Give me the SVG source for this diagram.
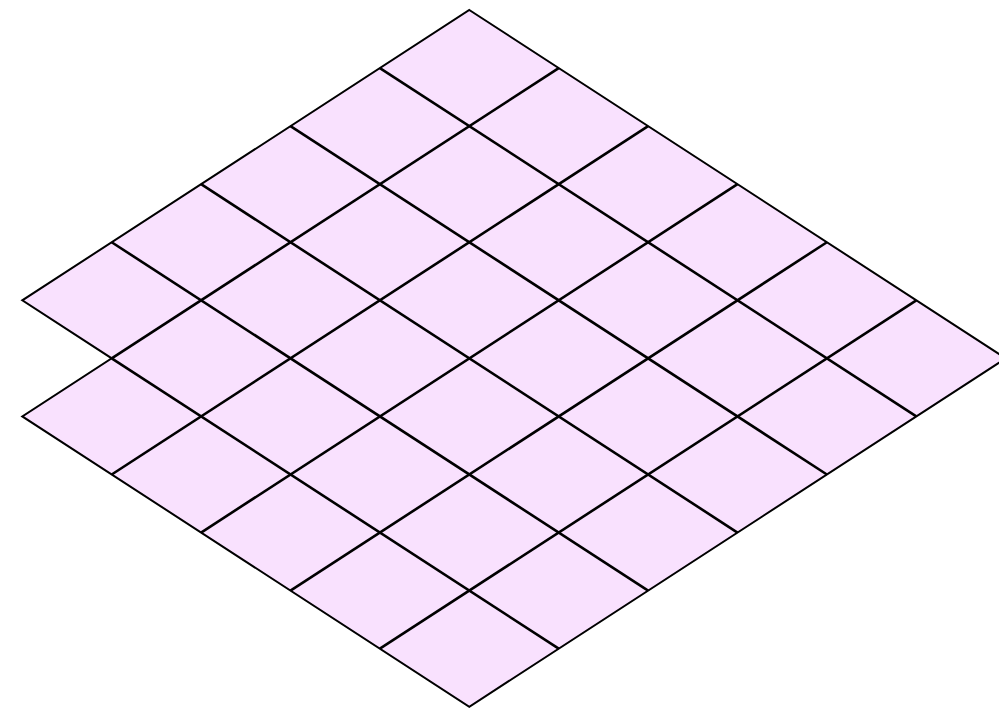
<svg xmlns="http://www.w3.org/2000/svg" width="999" height="712" viewBox="0 0 999 712">
<style>
.plane{fill:#f9e1fe;stroke:#000;stroke-width:2;stroke-linejoin:miter}
.grid line{stroke:#000;stroke-width:2.6;stroke-linecap:butt}
</style>
<rect width="999" height="712" fill="#fff"/>
<g id="plane">
<polygon class="plane" points="469.3,10 1005.7,358.36 469.3,706.72 22.3,416.42 111.7,358.36 22.3,300.3"/>
</g>
<g id="grid" class="grid">
<line x1="558.7" y1="68.06" x2="111.7" y2="358.36"/>
<line x1="648.1" y1="126.12" x2="111.7" y2="474.48"/>
<line x1="737.5" y1="184.18" x2="201.1" y2="532.54"/>
<line x1="826.9" y1="242.24" x2="290.5" y2="590.6"/>
<line x1="916.3" y1="300.3" x2="379.9" y2="648.66"/>
<line x1="379.9" y1="68.06" x2="916.3" y2="416.42"/>
<line x1="290.5" y1="126.12" x2="826.9" y2="474.48"/>
<line x1="201.1" y1="184.18" x2="737.5" y2="532.54"/>
<line x1="111.7" y1="242.24" x2="648.1" y2="590.6"/>
<line x1="111.7" y1="358.36" x2="558.7" y2="648.66"/>
</g>
</svg>
